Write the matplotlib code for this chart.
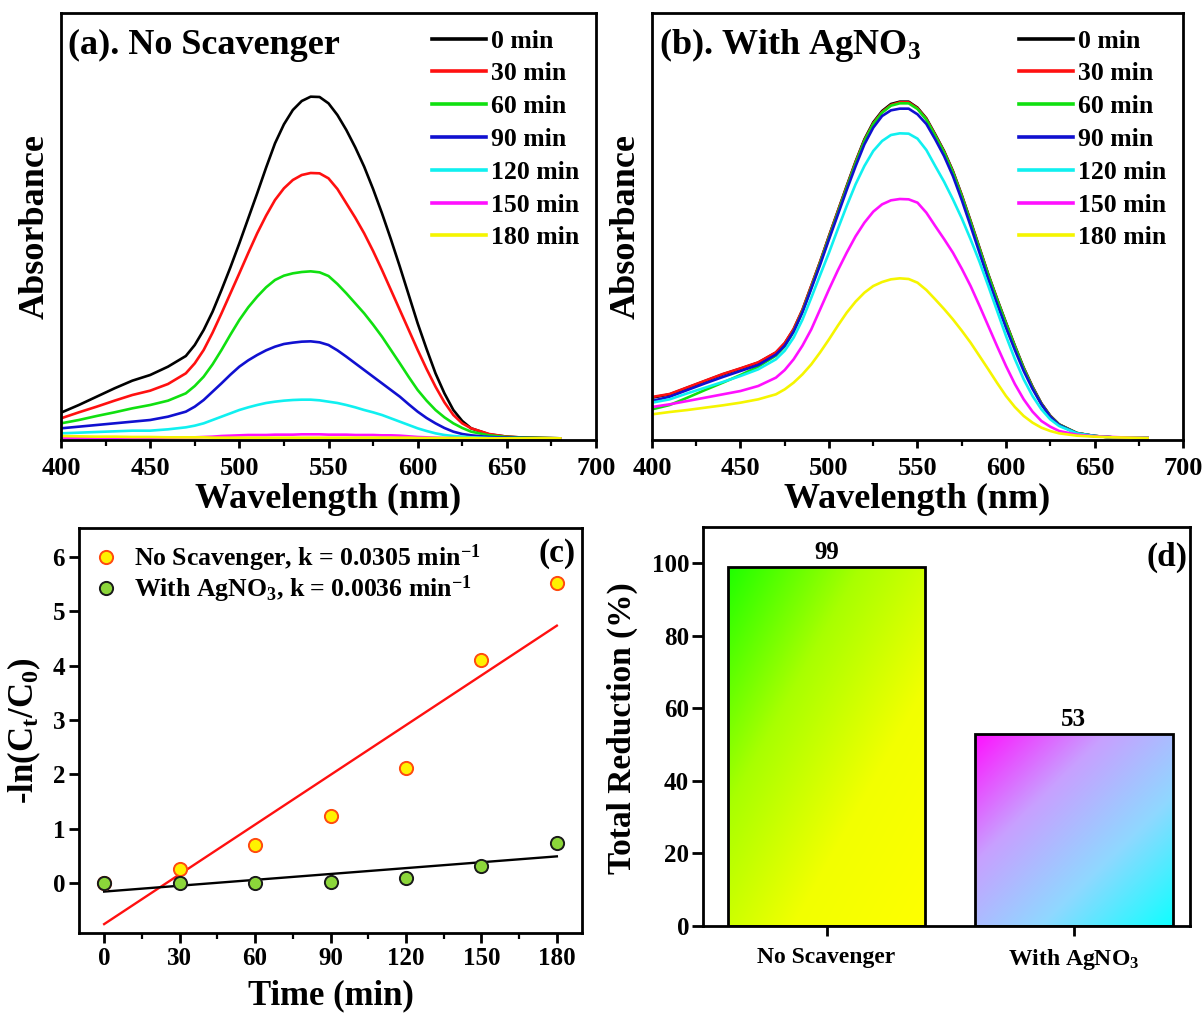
import numpy as np
import matplotlib
matplotlib.use("Agg")
import matplotlib.pyplot as plt
from matplotlib.colors import LinearSegmentedColormap
from matplotlib.ticker import MultipleLocator

plt.rcParams['font.family'] = ['Liberation Serif', 'DejaVu Serif']
plt.rcParams['font.weight'] = 'bold'
plt.rcParams['axes.labelweight'] = 'bold'
plt.rcParams['mathtext.fontset'] = 'custom'
plt.rcParams['mathtext.rm'] = 'Liberation Serif:bold'
plt.rcParams['mathtext.it'] = 'Liberation Serif:bold'
plt.rcParams['mathtext.bf'] = 'Liberation Serif:bold'
plt.rcParams['mathtext.default'] = 'rm'
plt.rcParams['axes.linewidth'] = 2.0
for ax_ in ('xtick', 'ytick'):
    plt.rcParams[f'{ax_}.major.width'] = 2.0
    plt.rcParams[f'{ax_}.minor.width'] = 1.6
    plt.rcParams[f'{ax_}.direction'] = 'out'

# ---------------- data ----------------
wavelength = [400, 410, 420, 430, 440, 450, 460, 470,
              475, 480, 485, 490, 495, 500, 505, 510, 515, 520, 525, 530, 535, 540, 545, 550,
              555, 560, 565, 570, 575, 580, 585, 590, 595, 600, 605, 610, 615, 620, 625, 630,
              640, 650, 660, 670, 680]
time_labels = ['0 min', '30 min', '60 min', '90 min', '120 min', '150 min', '180 min']

abs_no_scavenger = [
    [0.077, 0.100, 0.125, 0.150, 0.173, 0.190, 0.215, 0.247,
     0.280, 0.325, 0.380, 0.445, 0.513, 0.585, 0.660, 0.735, 0.812, 0.885, 0.942, 0.985, 1.012, 1.025, 1.024, 1.005,
     0.970, 0.925, 0.873, 0.815, 0.748, 0.675, 0.597, 0.515, 0.430, 0.345, 0.268, 0.195, 0.135, 0.085, 0.052, 0.030,
     0.012, 0.005, 0.002, 0.001, 0.000],
    [0.060, 0.078, 0.095, 0.113, 0.130, 0.143, 0.163, 0.195,
     0.225, 0.265, 0.317, 0.375, 0.435, 0.495, 0.556, 0.615, 0.668, 0.715, 0.750, 0.775, 0.790, 0.796, 0.795, 0.780,
     0.748, 0.705, 0.662, 0.615, 0.562, 0.505, 0.445, 0.385, 0.325, 0.265, 0.208, 0.155, 0.108, 0.070, 0.045, 0.030,
     0.013, 0.005, 0.002, 0.001, 0.000],
    [0.045, 0.055, 0.067, 0.078, 0.090, 0.100, 0.113, 0.135,
     0.157, 0.185, 0.222, 0.265, 0.311, 0.355, 0.393, 0.425, 0.453, 0.475, 0.488, 0.495, 0.499, 0.501, 0.498, 0.487,
     0.463, 0.435, 0.405, 0.375, 0.341, 0.305, 0.265, 0.225, 0.184, 0.145, 0.113, 0.085, 0.063, 0.045, 0.031, 0.020,
     0.009, 0.004, 0.002, 0.001, 0.000],
    [0.030, 0.035, 0.040, 0.045, 0.050, 0.055, 0.065, 0.080,
     0.095, 0.115, 0.140, 0.165, 0.191, 0.215, 0.234, 0.250, 0.264, 0.275, 0.283, 0.287, 0.290, 0.291, 0.288, 0.280,
     0.264, 0.245, 0.225, 0.205, 0.185, 0.165, 0.145, 0.125, 0.102, 0.080, 0.061, 0.045, 0.031, 0.020, 0.013, 0.009,
     0.004, 0.002, 0.001, 0.000, 0.000],
    [0.015, 0.017, 0.019, 0.021, 0.023, 0.023, 0.027, 0.033,
     0.038, 0.045, 0.055, 0.065, 0.075, 0.085, 0.093, 0.100, 0.106, 0.110, 0.113, 0.115, 0.116, 0.116, 0.114, 0.110,
     0.106, 0.100, 0.093, 0.085, 0.078, 0.070, 0.060, 0.050, 0.040, 0.030, 0.022, 0.015, 0.010, 0.007, 0.005, 0.003,
     0.001, 0.000, 0.000, 0.000, 0.000],
    [0.002, 0.002, 0.002, 0.002, 0.002, 0.002, 0.002, 0.003,
     0.003, 0.004, 0.005, 0.007, 0.008, 0.009, 0.010, 0.010, 0.010, 0.011, 0.011, 0.011, 0.012, 0.012, 0.012, 0.011,
     0.011, 0.011, 0.010, 0.010, 0.010, 0.009, 0.009, 0.008, 0.006, 0.004, 0.003, 0.002, 0.001, 0.001, 0.000, 0.000,
     0.000, 0.000, 0.000, 0.000, 0.000],
    [0.007, 0.006, 0.005, 0.005, 0.004, 0.004, 0.003, 0.003,
     0.003, 0.003, 0.002, 0.002, 0.002, 0.002, 0.002, 0.002, 0.002, 0.002, 0.002, 0.002, 0.002, 0.002, 0.002, 0.002,
     0.002, 0.002, 0.002, 0.002, 0.002, 0.002, 0.002, 0.002, 0.002, 0.001, 0.001, 0.001, 0.001, 0.001, 0.001, 0.001,
     0.000, 0.000, 0.000, 0.000, 0.000],
]

abs_with_agno3 = [
    [0.122, 0.132, 0.152, 0.172, 0.192, 0.209, 0.227, 0.257,
     0.285, 0.327, 0.385, 0.457, 0.530, 0.607, 0.682, 0.757, 0.830, 0.897, 0.948, 0.982, 1.003, 1.010, 1.010, 0.992,
     0.960, 0.912, 0.862, 0.802, 0.730, 0.652, 0.572, 0.492, 0.418, 0.347, 0.278, 0.212, 0.155, 0.105, 0.068, 0.042,
     0.016, 0.007, 0.003, 0.002, 0.001],
    [0.124, 0.133, 0.153, 0.173, 0.193, 0.210, 0.228, 0.258,
     0.286, 0.328, 0.386, 0.458, 0.530, 0.606, 0.681, 0.755, 0.828, 0.894, 0.945, 0.979, 1.000, 1.008, 1.008, 0.990,
     0.958, 0.910, 0.860, 0.800, 0.728, 0.650, 0.570, 0.490, 0.416, 0.345, 0.276, 0.210, 0.153, 0.104, 0.067, 0.041,
     0.016, 0.007, 0.003, 0.002, 0.001],
    [0.087, 0.100, 0.122, 0.145, 0.167, 0.190, 0.215, 0.248,
     0.276, 0.320, 0.380, 0.452, 0.526, 0.602, 0.677, 0.752, 0.825, 0.892, 0.943, 0.977, 0.998, 1.005, 1.005, 0.988,
     0.956, 0.908, 0.858, 0.798, 0.726, 0.648, 0.568, 0.489, 0.415, 0.344, 0.275, 0.209, 0.152, 0.103, 0.066, 0.041,
     0.016, 0.007, 0.003, 0.002, 0.001],
    [0.112, 0.125, 0.145, 0.165, 0.184, 0.202, 0.220, 0.251,
     0.278, 0.320, 0.378, 0.449, 0.521, 0.597, 0.671, 0.745, 0.816, 0.882, 0.932, 0.967, 0.984, 0.989, 0.989, 0.972,
     0.943, 0.897, 0.847, 0.787, 0.715, 0.637, 0.557, 0.477, 0.403, 0.332, 0.265, 0.202, 0.148, 0.102, 0.065, 0.040,
     0.015, 0.007, 0.003, 0.002, 0.001],
    [0.107, 0.117, 0.135, 0.152, 0.169, 0.187, 0.207, 0.237,
     0.263, 0.302, 0.356, 0.422, 0.490, 0.557, 0.628, 0.697, 0.762, 0.817, 0.862, 0.892, 0.910, 0.915, 0.914, 0.899,
     0.865, 0.817, 0.770, 0.717, 0.660, 0.597, 0.530, 0.457, 0.382, 0.307, 0.238, 0.177, 0.127, 0.087, 0.057, 0.037,
     0.015, 0.007, 0.003, 0.002, 0.001],
    [0.094, 0.102, 0.112, 0.122, 0.132, 0.142, 0.157, 0.182,
     0.205, 0.237, 0.278, 0.327, 0.387, 0.447, 0.504, 0.557, 0.606, 0.647, 0.680, 0.702, 0.714, 0.718, 0.717, 0.707,
     0.677, 0.637, 0.598, 0.557, 0.509, 0.457, 0.398, 0.337, 0.276, 0.217, 0.163, 0.117, 0.080, 0.052, 0.035, 0.022,
     0.011, 0.006, 0.004, 0.002, 0.001],
    [0.072, 0.079, 0.085, 0.092, 0.099, 0.107, 0.117, 0.132,
     0.147, 0.167, 0.192, 0.222, 0.258, 0.297, 0.338, 0.377, 0.410, 0.437, 0.457, 0.469, 0.477, 0.480, 0.478, 0.467,
     0.445, 0.417, 0.388, 0.357, 0.323, 0.287, 0.247, 0.207, 0.166, 0.127, 0.094, 0.067, 0.047, 0.032, 0.022, 0.015,
     0.008, 0.005, 0.003, 0.002, 0.001],
]

line_colors = ['#000000', '#FF1010', '#10E010', '#1010D0', '#10F0F0', '#FF10FF', '#F5F500']

# kinetics
kin_time = [0, 30, 60, 90, 120, 150, 180]
kin_no_scavenger = [0.00, 0.26, 0.70, 1.24, 2.11, 4.10, 5.51]
kin_with_agno3 = [0.00, 0.00, 0.00, 0.02, 0.09, 0.32, 0.73]
rate_k = [0.0305, 0.0036]
kin_labels = ['No Scavenger, k = 0.0305 min$^{-1}$', 'With AgNO$_3$, k = 0.0036 min$^{-1}$']

# total reduction
bar_names = ['No Scavenger', 'With AgNO$_3$']
bar_values = [99, 53]

# ---------------- figure ----------------
W, H = 1204, 1021
fig = plt.figure(figsize=(W / 100, H / 100), dpi=100)


def box(l, t, r, b):
    return [l / W, 1 - b / H, (r - l) / W, (b - t) / H]


def spectrum_panel(rect, data, title):
    ax = fig.add_axes(rect)
    for vals, c, lab in zip(data, line_colors, time_labels):
        ax.plot(wavelength, vals, color=c, lw=1.9, label=lab)
    ax.set_xlim(400, 700)
    ax.set_ylim(-0.005, 1.276)
    ax.set_yticks([])
    ax.xaxis.set_major_locator(MultipleLocator(50))
    ax.xaxis.set_minor_locator(MultipleLocator(25))
    ax.tick_params(axis='x', which='major', length=6, labelsize=19, pad=6)
    ax.tick_params(axis='x', which='minor', length=4)
    ax.set_xlabel('Wavelength (nm)', fontsize=26)
    ax.set_ylabel('Absorbance', fontsize=26)
    ax.xaxis.set_label_coords(0.5, -0.1)
    ax.yaxis.set_label_coords(-0.018, 0.5)
    ax.text(0.014, 0.925, title, transform=ax.transAxes, fontsize=26,
            fontweight='bold', ha='left', va='center')
    leg = ax.legend(loc='upper right', bbox_to_anchor=(1.0, 1.0), frameon=False,
                    fontsize=18.5, handlelength=2.1, handletextpad=0.2,
                    labelspacing=0.38, borderaxespad=0.25)
    for ln in leg.get_lines():
        ln.set_linewidth(2.6)
    return ax


spectrum_panel(box(61, 13, 596, 440), abs_no_scavenger, '(a). No Scavenger')
spectrum_panel(box(652, 13, 1183, 440), abs_with_agno3, '(b). With AgNO$_3$')

# ---- (c) pseudo-first-order kinetics ----
axc = fig.add_axes(box(79, 528, 582, 933))
t = np.array(kin_time, dtype=float)
series = [np.array(kin_no_scavenger), np.array(kin_with_agno3)]
fit_colors = ['#FF1010', '#000000']
face = ['#FFF200', '#8CD63A']
edge = ['#FF4A10', '#1A1A1A']
for y, k, fc in zip(series, rate_k, fit_colors):
    b0 = y.mean() - k * t.mean()
    axc.plot([t[0], t[-1]], [b0 + k * t[0], b0 + k * t[-1]], color=fc, lw=1.7, zorder=2)
for y, f, e, lab in zip(series, face, edge, kin_labels):
    axc.plot(t, y, 'o', ms=9.5, mfc=f, mec=e, mew=1.4, label=lab, zorder=3)
axc.set_xlim(-10, 190)
axc.set_ylim(-0.92, 6.53)
axc.set_xticks(kin_time)
axc.xaxis.set_minor_locator(MultipleLocator(15))
axc.set_yticks(range(0, 7))
axc.tick_params(axis='both', which='major', length=7, labelsize=18, pad=3)
axc.tick_params(axis='x', which='minor', length=4)
axc.set_xlabel('Time (min)', fontsize=25)
axc.set_ylabel('-ln(C$_t$/C$_0$)', fontsize=25)
axc.xaxis.set_label_coords(0.5, -0.115)
axc.yaxis.set_label_coords(-0.072, 0.5)
axc.text(0.951, 0.938, '(c)', transform=axc.transAxes, fontsize=24,
         fontweight='bold', ha='center', va='center')
axc.legend(loc='upper left', frameon=False, fontsize=18.5, handlelength=1.0,
           handletextpad=0.6, labelspacing=0.0, borderaxespad=0.25,
           borderpad=0.3)

# ---- (d) total reduction bars with diagonal gradients ----
axd = fig.add_axes(box(703, 527, 1190, 926))
cmaps = [LinearSegmentedColormap.from_list('gy', ['#1EFF00', '#A8FF00', '#F2FF00', '#FFFF00']),
         LinearSegmentedColormap.from_list('mc', ['#FF10FF', '#C8A0FF', '#8FD8FF', '#10FFFF'])]
u = np.linspace(0, 1, 200)
grad = (u[None, :] + u[:, None]) / 2.0
xpos = np.arange(len(bar_values))
bars = axd.bar(xpos, bar_values, width=0.8, facecolor='none', edgecolor='black',
               linewidth=2.0, zorder=3)
for rect, cm in zip(bars, cmaps):
    x0, w, h = rect.get_x(), rect.get_width(), rect.get_height()
    im = axd.imshow(grad, cmap=cm, extent=[x0, x0 + w, 0, h], origin='upper',
                    aspect='auto', interpolation='bilinear', zorder=2)
    im.set_clip_path(rect)
    axd.text(x0 + w / 2, h + 0.8, f'{h:g}', ha='center', va='bottom',
             fontsize=18, fontweight='bold')
axd.set_xlim(-0.5, 1.47)
axd.set_ylim(0, 110)
axd.set_xticks(xpos)
axd.set_xticklabels(bar_names)
axd.set_yticks(range(0, 101, 20))
axd.tick_params(axis='y', which='major', length=8, labelsize=18, pad=2)
axd.tick_params(axis='x', which='major', length=7, labelsize=17, pad=8)
axd.set_ylabel('Total Reduction (%)', fontsize=24)
axd.yaxis.set_label_coords(-0.134, 0.496)
axd.text(0.953, 0.925, '(d)', transform=axd.transAxes, fontsize=24,
         fontweight='bold', ha='center', va='center')

fig.savefig('out.png', dpi=100)
